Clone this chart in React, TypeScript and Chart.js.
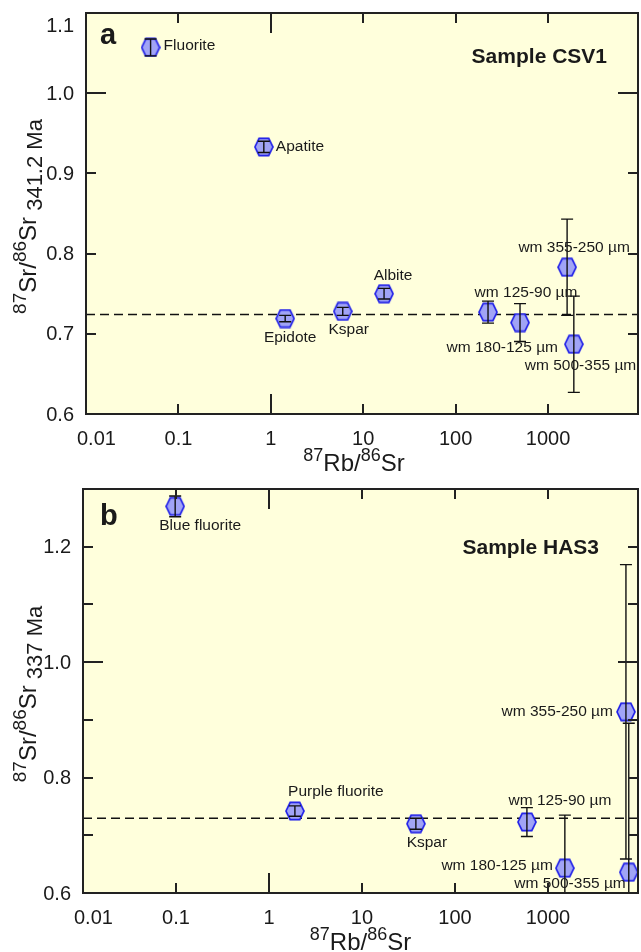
import React, { useEffect, useRef } from 'react';
import { Chart, registerables } from 'chart.js';

Chart.register(...registerables);

// ---------------- data: panel a (Sample CSV1) ----------------
const aMinerals = ['Fluorite', 'Apatite', 'Epidote', 'Kspar', 'Albite', 'wm 125-90 µm', 'wm 180-125 µm', 'wm 355-250 µm', 'wm 500-355 µm'];
const aRbSr = [0.05, 0.84, 1.43, 6.0, 16.8, 224, 497, 1607, 1900];
const aSrSr = [1.057, 0.933, 0.719, 0.728, 0.750, 0.727, 0.714, 0.783, 0.687];
const aErr = [0.0105, 0.007, 0.004, 0.005, 0.0066, 0.0137, 0.0236, 0.06, 0.06];
const aInitialRatio = 0.724;
const aSample = 'Sample CSV1';
const aAge = ' 341.2 Ma';
const aYTicks = [0.6, 0.7, 0.8, 0.9, 1.0, 1.1];
const aYLabels = ['0.6', '0.7', '0.8', '0.9', '1.0', '1.1'];

// ---------------- data: panel b (Sample HAS3) ----------------
const bMinerals = ['Blue fluorite', 'Purple fluorite', 'Kspar', 'wm 125-90 µm', 'wm 180-125 µm', 'wm 355-250 µm', 'wm 500-355 µm'];
const bRbSr = [0.098, 1.9, 38, 594, 1520, 6900, 7400];
const bSrSr = [1.270, 0.742, 0.720, 0.723, 0.643, 0.914, 0.636];
const bErr = [0.018, 0.009, 0.0095, 0.025, 0.092, 0.255, 0.258];
const bInitialRatio = 0.7297;
const bSample = 'Sample HAS3';
const bAge = ' 337 Ma';
const bYTicks = [0.6, 0.7, 0.8, 0.9, 1.0, 1.1, 1.2, 1.3];
const bYLabels = ['0.6', '', '0.8', '', '1.0', '', '1.2', ''];

// ---------------- shared axis ticks ----------------
const xTicks = [0.01, 0.1, 1, 10, 100, 1000];
const xTickLabels = ['0.01', '0.1', '1', '10', '100', '1000'];

// ---------------- layout / style (kept apart from data) ----------------
const FONT = '"Liberation Sans", Arial, Helvetica, sans-serif';
const TEXT = '#1a1a1a';
const BG = '#ffffdc';

type Place = { dx: number; dy: number; align: CanvasTextAlign };
const aPlace: Place[] = [
  { dx: 13, dy: -2, align: 'left' },
  { dx: 12, dy: 0, align: 'left' },
  { dx: 5, dy: 19, align: 'center' },
  { dx: 6, dy: 18, align: 'center' },
  { dx: 9, dy: -18, align: 'center' },
  { dx: 38, dy: -19, align: 'center' },
  { dx: 38, dy: 25, align: 'right' },
  { dx: 7, dy: -20, align: 'center' },
  { dx: -49, dy: 21, align: 'left' },
];
const bPlace: Place[] = [
  { dx: 25, dy: 19, align: 'center' },
  { dx: 41, dy: -19, align: 'center' },
  { dx: 11, dy: 19, align: 'center' },
  { dx: 33, dy: -21, align: 'center' },
  { dx: -12, dy: -2, align: 'right' },
  { dx: -13, dy: 0, align: 'right' },
  { dx: -3, dy: 11, align: 'right' },
];

type Panel = {
  letter: string;
  sample: string;
  age: string;
  minerals: string[];
  rb: number[];
  sr: number[];
  err: number[];
  initial: number;
  yTicks: number[];
  yLabels: string[];
  yMin: number;
  yMax: number;
  xMax: number;
  place: Place[];
  left: number;
  top: number;
  bottom: number;
  letterPos: [number, number];
  samplePos: [number, number];
  xTitleShift: number;
};

const panelA: Panel = {
  letter: 'a', sample: aSample, age: aAge, minerals: aMinerals, rb: aRbSr, sr: aSrSr, err: aErr,
  initial: aInitialRatio, yTicks: aYTicks, yLabels: aYLabels, yMin: 0.6, yMax: 1.1, xMax: 9400,
  place: aPlace, left: 86, top: 13, bottom: 414, letterPos: [14, 31], samplePos: [31, 50], xTitleShift: -8,
};
const panelB: Panel = {
  letter: 'b', sample: bSample, age: bAge, minerals: bMinerals, rb: bRbSr, sr: bSrSr, err: bErr,
  initial: bInitialRatio, yTicks: bYTicks, yLabels: bYLabels, yMin: 0.6, yMax: 1.3, xMax: 9300,
  place: bPlace, left: 83, top: 13, bottom: 417, letterPos: [17, 36], samplePos: [39, 65], xTitleShift: 0,
};

const W = 641;
const H = 476;

function makeHexagon(): HTMLCanvasElement {
  const c = document.createElement('canvas');
  c.width = 20;
  c.height = 20;
  const g = c.getContext('2d')!;
  const cx = 10, cy = 10, hw = 9, hh = 8.6, tw = 4.8;
  g.beginPath();
  g.moveTo(cx - hw, cy);
  g.lineTo(cx - tw, cy - hh);
  g.lineTo(cx + tw, cy - hh);
  g.lineTo(cx + hw, cy);
  g.lineTo(cx + tw, cy + hh);
  g.lineTo(cx - tw, cy + hh);
  g.closePath();
  g.fillStyle = '#a1a4f6';
  g.fill();
  g.lineWidth = 1.7;
  g.strokeStyle = '#1f1fe8';
  g.stroke();
  return c;
}

type Seg = { t: string; size: number; dv: number };

function drawSegs(ctx: CanvasRenderingContext2D, segs: Seg[], cx: number, baseY: number) {
  let total = 0;
  const widths = segs.map((s) => {
    ctx.font = `${s.size}px ${FONT}`;
    const w = ctx.measureText(s.t).width;
    total += w;
    return w;
  });
  let x = cx - total / 2;
  ctx.textAlign = 'left';
  ctx.textBaseline = 'alphabetic';
  segs.forEach((s, i) => {
    ctx.font = `${s.size}px ${FONT}`;
    ctx.fillText(s.t, x, baseY + s.dv);
    x += widths[i];
  });
}

function makePlugin(p: Panel) {
  return {
    id: 'panelDecor',
    beforeDatasetsDraw(chart: any) {
      const { ctx, chartArea: a } = chart;
      ctx.save();
      ctx.fillStyle = BG;
      ctx.fillRect(a.left, a.top, a.right - a.left, a.bottom - a.top);
      ctx.restore();
    },
    afterDatasetsDraw(chart: any) {
      const { ctx, chartArea: a } = chart;
      const xs = chart.scales.x;
      const ys = chart.scales.y;
      // error bars
      ctx.save();
      ctx.beginPath();
      ctx.rect(a.left, a.top, a.right - a.left, a.bottom - a.top);
      ctx.clip();
      ctx.strokeStyle = '#111';
      ctx.lineWidth = 1.4;
      p.rb.forEach((rb, i) => {
        const x = xs.getPixelForValue(rb);
        const y1 = ys.getPixelForValue(p.sr[i] + p.err[i]);
        const y2 = ys.getPixelForValue(p.sr[i] - p.err[i]);
        ctx.beginPath();
        ctx.moveTo(x, y1);
        ctx.lineTo(x, y2);
        ctx.moveTo(x - 6, y1);
        ctx.lineTo(x + 6, y1);
        ctx.moveTo(x - 6, y2);
        ctx.lineTo(x + 6, y2);
        ctx.stroke();
      });
      ctx.restore();
      // point labels
      ctx.save();
      ctx.fillStyle = TEXT;
      ctx.font = `15.5px ${FONT}`;
      ctx.textBaseline = 'middle';
      p.minerals.forEach((m, i) => {
        const x = xs.getPixelForValue(p.rb[i]);
        const y = ys.getPixelForValue(p.sr[i]);
        const pl = p.place[i];
        ctx.textAlign = pl.align;
        ctx.fillText(m, x + pl.dx, y + pl.dy);
      });
      ctx.restore();
    },
    afterDraw(chart: any) {
      const { ctx, chartArea: a } = chart;
      const xs = chart.scales.x;
      const ys = chart.scales.y;
      ctx.save();
      // ticks (inside, mirrored)
      ctx.strokeStyle = '#222';
      ctx.lineWidth = 2;
      ctx.beginPath();
      xTicks.forEach((v) => {
        const x = Math.round(xs.getPixelForValue(v));
        if (x <= a.left + 1 || x >= a.right - 1) return;
        const len = v === 1 ? 20 : 10;
        ctx.moveTo(x, a.bottom);
        ctx.lineTo(x, a.bottom - len);
        ctx.moveTo(x, a.top);
        ctx.lineTo(x, a.top + len);
      });
      p.yTicks.forEach((v) => {
        const y = Math.round(ys.getPixelForValue(v));
        if (y <= a.top + 1 || y >= a.bottom - 1) return;
        const len = Math.abs(v - 1) < 1e-9 ? 20 : 10;
        ctx.moveTo(a.left, y);
        ctx.lineTo(a.left + len, y);
        ctx.moveTo(a.right, y);
        ctx.lineTo(a.right - len, y);
      });
      ctx.stroke();
      // frame
      ctx.strokeRect(a.left, a.top, a.right - a.left, a.bottom - a.top);

      // tick labels
      ctx.fillStyle = TEXT;
      ctx.font = `20px ${FONT}`;
      ctx.textBaseline = 'alphabetic';
      ctx.textAlign = 'left';
      xTicks.forEach((v, i) => {
        const x = xs.getPixelForValue(v);
        const lab = xTickLabels[i];
        const w = ctx.measureText(lab).width;
        const lx = Math.max(x - w / 2, a.left - 9);
        ctx.fillText(lab, lx, a.bottom + 31);
      });
      ctx.textAlign = 'right';
      ctx.textBaseline = 'middle';
      p.yTicks.forEach((v, i) => {
        const lab = p.yLabels[i];
        if (!lab) return;
        const y = Math.max(ys.getPixelForValue(v), a.top + 12);
        ctx.fillText(lab, a.left - 12, y + 1);
      });

      // axis titles
      const cx = (a.left + a.right) / 2 + p.xTitleShift;
      drawSegs(ctx, [
        { t: '87', size: 18, dv: -10 },
        { t: 'Rb/', size: 24, dv: 0 },
        { t: '86', size: 18, dv: -10 },
        { t: 'Sr', size: 24, dv: 0 },
      ], cx, a.bottom + 57);

      ctx.save();
      ctx.translate(36, (a.top + a.bottom) / 2 + 3);
      ctx.rotate(-Math.PI / 2);
      drawSegs(ctx, [
        { t: '87', size: 19, dv: -10 },
        { t: 'Sr/', size: 24, dv: 0 },
        { t: '86', size: 19, dv: -10 },
        { t: 'Sr', size: 24, dv: 0 },
        { t: p.age, size: 22, dv: 6 },
      ], 0, 0);
      ctx.restore();

      // panel letter and sample name
      ctx.textBaseline = 'alphabetic';
      ctx.textAlign = 'left';
      ctx.font = `bold 29px ${FONT}`;
      ctx.fillText(p.letter, a.left + p.letterPos[0], a.top + p.letterPos[1]);
      ctx.textAlign = 'right';
      ctx.font = `bold 21px ${FONT}`;
      ctx.fillText(p.sample, a.right - p.samplePos[0], a.top + p.samplePos[1]);
      ctx.restore();
    },
  };
}

function PanelChart({ panel }: { panel: Panel }) {
  const ref = useRef<HTMLCanvasElement>(null);
  useEffect(() => {
    const hex = makeHexagon();
    const points = panel.rb.map((x, i) => ({ x, y: panel.sr[i] }));
    const chart = new Chart(ref.current!, {
      type: 'scatter',
      data: {
        datasets: [
          {
            label: 'samples',
            data: points,
            pointStyle: hex as any,
            pointRadius: 9,
            clip: false as any,
          },
          {
            label: 'initial ratio',
            data: [
              { x: 0.01, y: panel.initial },
              { x: panel.xMax, y: panel.initial },
            ],
            showLine: true,
            borderColor: '#111',
            borderWidth: 1.5,
            borderDash: [9, 5],
            pointRadius: 0,
            fill: false,
          } as any,
        ],
      },
      options: {
        responsive: false,
        animation: false,
        devicePixelRatio: 1,
        layout: { autoPadding: false, padding: { left: 0, top: panel.top, right: W - 638, bottom: 0 } },
        plugins: { legend: { display: false }, tooltip: { enabled: false } },
        events: [],
        scales: {
          x: {
            type: 'logarithmic',
            min: 0.01,
            max: panel.xMax,
            grid: { display: false },
            border: { display: false },
            ticks: { display: false },
            afterBuildTicks: (s: any) => {
              s.ticks = xTicks.map((v) => ({ value: v }));
            },
            afterFit: (s: any) => {
              s.height = H - panel.bottom;
            },
          },
          y: {
            type: 'linear',
            min: panel.yMin,
            max: panel.yMax,
            grid: { display: false },
            border: { display: false },
            ticks: { display: false, stepSize: 0.1 },
            afterFit: (s: any) => {
              s.width = panel.left;
            },
          },
        },
      } as any,
      plugins: [makePlugin(panel)],
    });
    return () => chart.destroy();
  }, [panel]);
  return <canvas ref={ref} width={W} height={H} style={{ display: 'block', width: W, height: H }} />;
}

export default function App() {
  return (
    <div style={{ position: 'absolute', left: 0, top: 0, width: W, height: 2 * H, background: '#fff' }}>
      <PanelChart panel={panelA} />
      <PanelChart panel={panelB} />
    </div>
  );
}
